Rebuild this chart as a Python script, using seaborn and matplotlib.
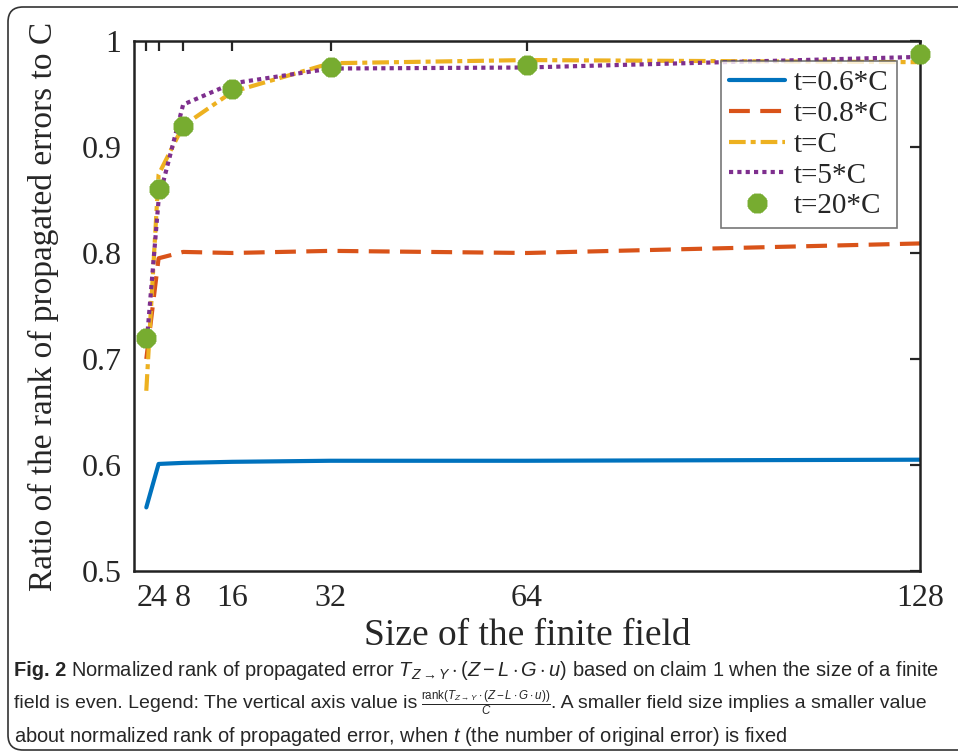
import pandas as pd
import seaborn as sns
import matplotlib.pyplot as plt
import matplotlib.transforms as mtransforms
from matplotlib.patches import FancyBboxPatch

# === data ===
field_size = [2, 4, 8, 16, 32, 64, 128]
t_06C = [0.560, 0.601, 0.602, 0.603, 0.604, 0.604, 0.605]
t_08C = [0.700, 0.795, 0.801, 0.800, 0.802, 0.800, 0.809]
t_C = [0.670, 0.874, 0.920, 0.952, 0.979, 0.982, 0.980]
t_5C = [0.711, 0.850, 0.940, 0.960, 0.974, 0.975, 0.985]
t_20C = [0.720, 0.860, 0.920, 0.955, 0.975, 0.977, 0.988]

x_ticks = [2, 4, 8, 16, 32, 64, 128]
y_ticks = [0.5, 0.6, 0.7, 0.8, 0.9, 1.0]
y_ticklabels = ["0.5", "0.6", "0.7", "0.8", "0.9", "1"]

series = {
    "t=0.6*C": t_06C,
    "t=0.8*C": t_08C,
    "t=C": t_C,
    "t=5*C": t_5C,
    "t=20*C": t_20C,
}
df = pd.concat(
    [pd.DataFrame({"size": field_size, "ratio": v, "label": k}) for k, v in series.items()],
    ignore_index=True,
)

# === style ===
sns.set_style("white")
plt.rcParams["font.family"] = ["Liberation Serif", "DejaVu Serif"]
plt.rcParams["mathtext.fontset"] = "custom"
plt.rcParams["mathtext.rm"] = "Liberation Sans"
plt.rcParams["mathtext.it"] = "Liberation Sans:italic"
plt.rcParams["mathtext.bf"] = "Liberation Sans:bold"

colors = {
    "t=0.6*C": "#0072BD",
    "t=0.8*C": "#D95319",
    "t=C": "#EDB120",
    "t=5*C": "#7E2F8E",
    "t=20*C": "#77AC30",
}
styles = {
    "t=0.6*C": "-",
    "t=0.8*C": (0, (5, 2.5)),
    "t=C": (0, (4, 1.2, 1.2, 1.2)),
    "t=5*C": (0, (1, 1)),
}

fig = plt.figure(figsize=(9.58, 7.56), dpi=100)
ax = fig.add_axes([0.1399, 0.2447, 0.8204, 0.7011])

for name, ls in styles.items():
    sub = df[df["label"] == name]
    sns.lineplot(data=sub, x="size", y="ratio", ax=ax, color=colors[name],
                 linestyle=ls, linewidth=3.0, label=name)
sub = df[df["label"] == "t=20*C"]
sns.lineplot(data=sub, x="size", y="ratio", ax=ax, color=colors["t=20*C"],
             linestyle="none", marker=(8, 2, 0), markersize=14,
             markeredgewidth=5, markeredgecolor=colors["t=20*C"],
             label="t=20*C", clip_on=False, zorder=5)

ax.set_xlim(0, 128)
ax.set_ylim(0.5, 1.0)
ax.set_xticks(x_ticks)
ax.set_xticklabels([str(v) for v in x_ticks])
ax.set_yticks(y_ticks)
ax.set_yticklabels(y_ticklabels)
ax.tick_params(direction="in", length=7, width=1.6, labelsize=23,
               top=True, right=True, pad=9)
# nudge the crowded "2" label left a little, like the reference
xl = ax.get_xticklabels()
xl[0].set_transform(xl[0].get_transform() + mtransforms.ScaledTranslation(-2 / 100, 0, fig.dpi_scale_trans))
for s in ax.spines.values():
    s.set_color("#222222")
    s.set_linewidth(1.8)
ax.set_xlabel("Size of the finite field", fontsize=27, labelpad=4)
ax.set_ylabel("Ratio of the rank of propagated errors to C", fontsize=24, labelpad=16)

leg = ax.legend(loc="upper right", bbox_to_anchor=(0.971, 0.962), fontsize=21,
                frameon=True, fancybox=False, edgecolor="#555555",
                handlelength=1.9, handletextpad=0.3, borderpad=0.3,
                labelspacing=0.15, borderaxespad=0)
leg.get_frame().set_linewidth(1.2)

# === rounded frame around the figure ===
frame = FancyBboxPatch((0.08, 0.06), 9.8, 7.43,
                       boxstyle="round,pad=0,rounding_size=0.15",
                       transform=fig.dpi_scale_trans, fill=False,
                       edgecolor="#333333", linewidth=1.2)
fig.patches.append(frame)

# === caption ===
cap_font = ["Liberation Sans", "DejaVu Sans"]


def caption_line(y_px, pieces):
    # pieces: list of (text, fontsize, weight), placed one after another
    x = 14
    for txt, size, weight, gap in pieces:
        t = fig.text(x / 958, 1 - y_px / 756, txt, fontsize=size, fontweight=weight,
                     family=cap_font, va="center", ha="left")
        fig.canvas.draw()
        x = t.get_window_extent().x1 + gap


caption_line(671, [
    ("Fig. 2", 14.4, "bold", 5),
    (r"Normalized rank of propagated error $T_{Z\rightarrow Y}\cdot(Z-L\cdot G\cdot u)$ "
     r"based on claim 1 when the size of a finite", 14.4, "normal", 0),
])
caption_line(703, [
    ("field is even. Legend: The vertical axis value is", 14.0, "normal", 4),
    (r"$\frac{\mathrm{rank}(T_{Z\rightarrow Y}\cdot(Z-L\cdot G\cdot u))}{C}$", 12.0, "normal", 0),
    (". A smaller field size implies a smaller value", 14.0, "normal", 0),
])
caption_line(736, [
    (r"about normalized rank of propagated error, when $t$ (the number of original error) is fixed",
     14.4, "normal", 0),
])

fig.savefig("out.png", dpi=100)
